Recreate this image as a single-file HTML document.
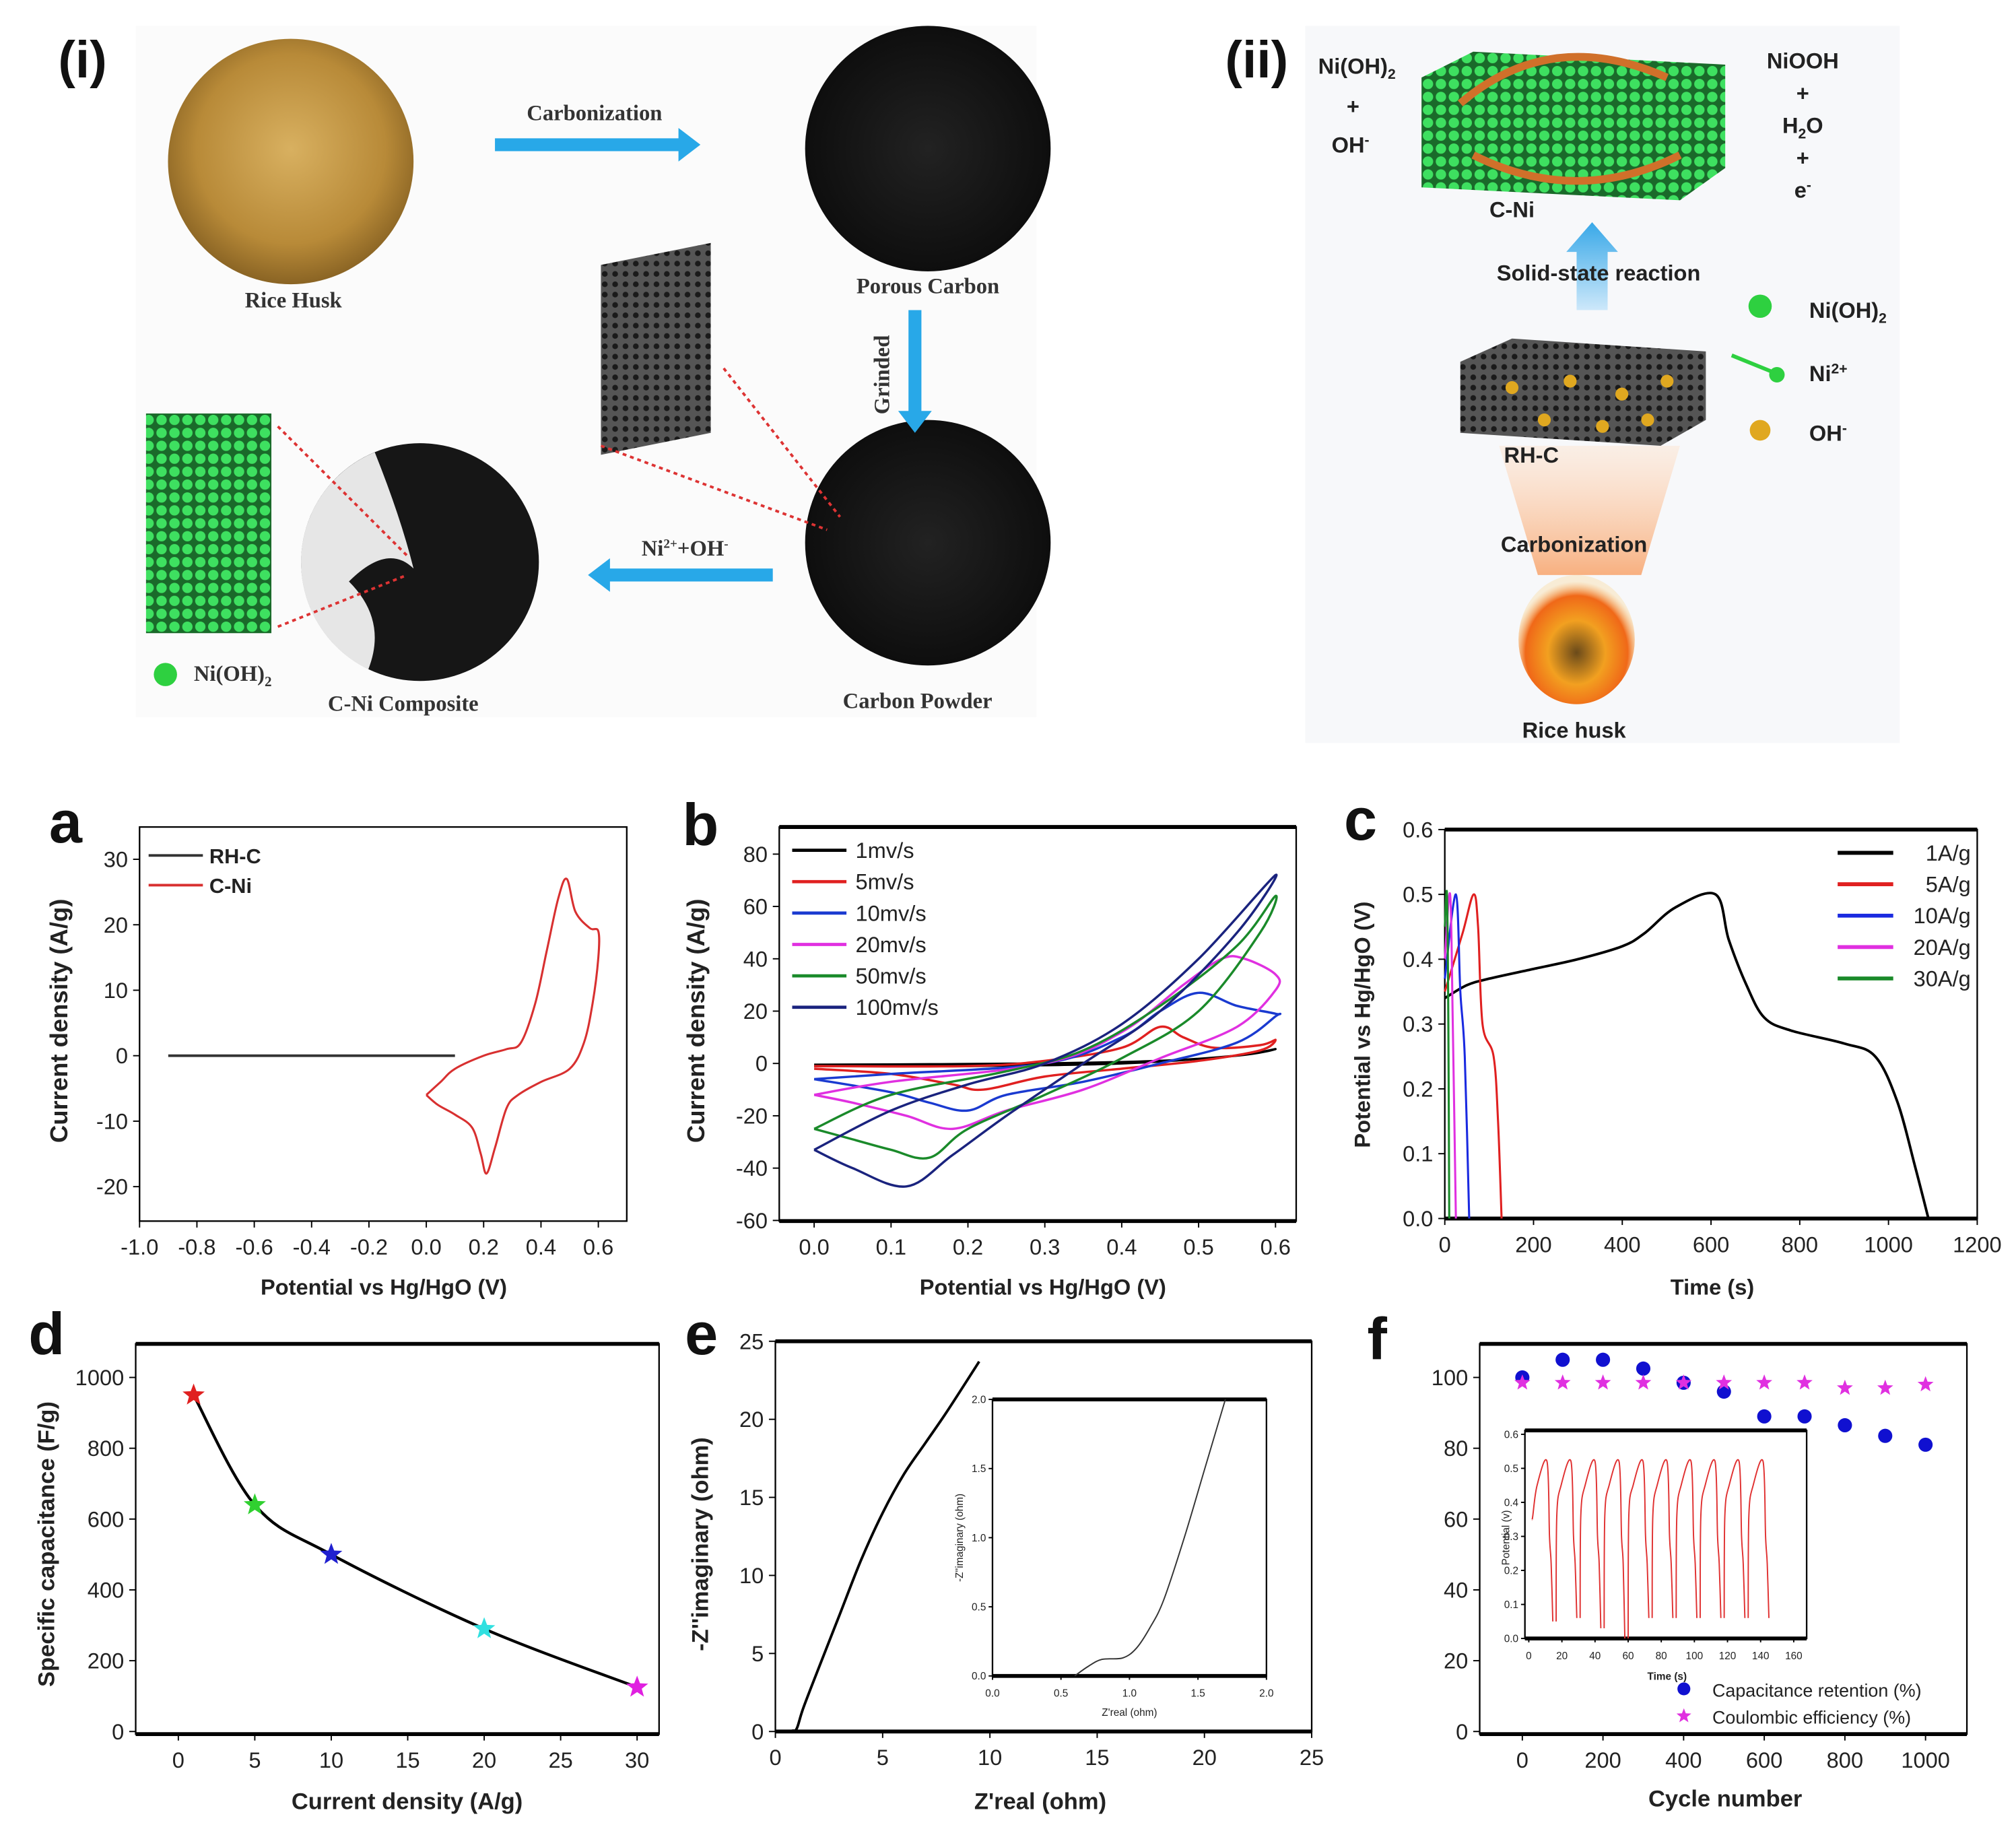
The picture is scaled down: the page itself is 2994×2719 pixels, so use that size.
<!DOCTYPE html>
<html><head><meta charset="utf-8">
<style>
html,body{margin:0;padding:0;background:#fff;}
svg{display:block;font-family:"Liberation Sans",Arial,sans-serif;}
.tk{fill:#222;}
.tt{font-weight:bold;fill:#222;}
.pl{font-weight:bold;fill:#111;}
.sr{font-family:"Liberation Serif",serif;font-weight:bold;font-size:17px;fill:#333;}
.bs{font-weight:bold;font-size:17px;fill:#222;}
</style></head>
<body>
<svg id="fig" width="2994" height="2719" viewBox="0 0 1560 1417" preserveAspectRatio="none">
<defs>
<radialGradient id="gold" cx="50%" cy="45%" r="55%"><stop offset="0" stop-color="#d8b060"/><stop offset="0.7" stop-color="#b88a38"/><stop offset="1" stop-color="#8a6424"/></radialGradient>
<radialGradient id="blk" cx="50%" cy="50%" r="55%"><stop offset="0" stop-color="#222"/><stop offset="1" stop-color="#0c0c0c"/></radialGradient>
<radialGradient id="fire" cx="50%" cy="60%" r="55%"><stop offset="0" stop-color="#6a4a1a"/><stop offset="0.45" stop-color="#f2a020"/><stop offset="0.8" stop-color="#f06818"/><stop offset="1" stop-color="#fbd080" stop-opacity="0.3"/></radialGradient>
<linearGradient id="glow" x1="0" y1="1" x2="0" y2="0"><stop offset="0" stop-color="#f8b080"/><stop offset="1" stop-color="#fde0c8" stop-opacity="0.4"/></linearGradient>
<linearGradient id="uparr" x1="0" y1="1" x2="0" y2="0"><stop offset="0" stop-color="#cde8fa"/><stop offset="1" stop-color="#38a8e8"/></linearGradient>
<pattern id="grn" width="10" height="10" patternUnits="userSpaceOnUse"><rect width="10" height="10" fill="#1a6a2a"/><circle cx="5" cy="5" r="4" fill="#3ee060"/></pattern>
<pattern id="por" width="8" height="8" patternUnits="userSpaceOnUse"><rect width="8" height="8" fill="#555"/><circle cx="4" cy="4" r="2.2" fill="#1a1a1a"/></pattern>
</defs>

<!-- ===== Panel (i) ===== -->
<g>
<rect x="105" y="20" width="697" height="535" fill="#fbfbfb"/>
<text class="pl" x="45" y="60" style="font-size:40px">(i)</text>
<circle cx="225" cy="125" r="95" fill="url(#gold)"/>
<text class="sr" x="227" y="238" text-anchor="middle">Rice Husk</text>
<circle cx="718" cy="115" r="95" fill="url(#blk)"/>
<text class="sr" x="718" y="227" text-anchor="middle">Porous Carbon</text>
<circle cx="718" cy="420" r="95" fill="url(#blk)"/>
<text class="sr" x="710" y="548" text-anchor="middle">Carbon Powder</text>
<circle cx="325" cy="435" r="92" fill="#161616"/>
<path d="M290 350 A92 92 0 0 0 285 518 Q300 480 270 450 Q300 420 320 440 Q310 400 290 350 Z" fill="#e6e6e6"/>
<text class="sr" x="312" y="550" text-anchor="middle">C-Ni Composite</text>
<polygon points="465,205 550,188 550,335 465,352" fill="url(#por)"/>
<rect x="113" y="320" width="97" height="170" fill="url(#grn)"/>
<line x1="215" y1="330" x2="315" y2="430" stroke="#d33" stroke-width="2" stroke-dasharray="3,3"/>
<line x1="215" y1="485" x2="315" y2="445" stroke="#d33" stroke-width="2" stroke-dasharray="3,3"/>
<line x1="560" y1="285" x2="650" y2="400" stroke="#d33" stroke-width="2" stroke-dasharray="3,3"/>
<line x1="465" y1="345" x2="640" y2="410" stroke="#d33" stroke-width="2" stroke-dasharray="3,3"/>
<circle cx="128" cy="522" r="9" fill="#2ed040"/>
<text class="sr" x="150" y="527">Ni(OH)<tspan font-size="11" dy="4">2</tspan></text>
<g fill="#28a8e8">
<path d="M383 107 H525 V99 L542 112 L525 125 V117 H383 Z"/>
<path d="M703 240 H713 V318 H721 L708 335 L695 318 H703 Z"/>
<path d="M598 440 V450 H472 V458 L455 445 L472 432 V440 Z"/>
</g>
<text class="sr" x="460" y="93" text-anchor="middle">Carbonization</text>
<text class="sr" x="688" y="290" text-anchor="middle" transform="rotate(-90 688 290)">Grinded</text>
<text class="sr" x="530" y="430" text-anchor="middle">Ni<tspan font-size="10" dy="-6">2+</tspan><tspan dy="6">+OH</tspan><tspan font-size="10" dy="-6">-</tspan></text>
</g>

<!-- ===== Panel (ii) ===== -->
<g>
<rect x="1010" y="20" width="460" height="555" fill="#f7f8fa"/>
<text class="pl" x="948" y="60" style="font-size:40px">(ii)</text>
<polygon points="1100,60 1140,40 1335,50 1335,130 1300,155 1100,145" fill="url(#grn)"/>
<path d="M1130 80 Q1200 20 1290 60" stroke="#d0702a" stroke-width="6" fill="none"/>
<path d="M1300 120 Q1220 160 1140 120" stroke="#d0702a" stroke-width="6" fill="none"/>
<text class="bs" x="1050" y="57" text-anchor="middle">Ni(OH)<tspan font-size="11" dy="4">2</tspan></text>
<text class="bs" x="1047" y="88" text-anchor="middle">+</text>
<text class="bs" x="1045" y="118" text-anchor="middle">OH<tspan font-size="11" dy="-6">-</tspan></text>
<text class="bs" x="1395" y="53" text-anchor="middle">NiOOH</text>
<text class="bs" x="1395" y="78" text-anchor="middle">+</text>
<text class="bs" x="1395" y="103" text-anchor="middle">H<tspan font-size="11" dy="4">2</tspan><tspan dy="-4">O</tspan></text>
<text class="bs" x="1395" y="128" text-anchor="middle">+</text>
<text class="bs" x="1395" y="153" text-anchor="middle">e<tspan font-size="11" dy="-6">-</tspan></text>
<text class="bs" x="1170" y="168" text-anchor="middle">C-Ni</text>
<path d="M1220 240 V195 H1212 L1232 172 L1252 195 H1244 V240 Z" fill="url(#uparr)"/>
<text class="bs" x="1237" y="217" text-anchor="middle">Solid-state reaction</text>
<polygon points="1130,280 1170,262 1320,272 1320,325 1285,345 1130,335" fill="url(#por)"/>
<g fill="#e0a820">
<circle cx="1170" cy="300" r="5"/><circle cx="1215" cy="295" r="5"/><circle cx="1255" cy="305" r="5"/><circle cx="1290" cy="295" r="5"/><circle cx="1195" cy="325" r="5"/><circle cx="1240" cy="330" r="5"/><circle cx="1275" cy="325" r="5"/>
</g>
<polygon points="1160,345 1300,345 1270,445 1190,445" fill="url(#glow)"/>
<text class="bs" x="1185" y="358" text-anchor="middle">RH-C</text>
<text class="bs" x="1218" y="427" text-anchor="middle">Carbonization</text>
<ellipse cx="1220" cy="495" rx="45" ry="50" fill="url(#fire)"/>
<text class="bs" x="1218" y="571" text-anchor="middle">Rice husk</text>
<circle cx="1362" cy="237" r="9" fill="#2ed040"/>
<text class="bs" x="1400" y="246">Ni(OH)<tspan font-size="11" dy="4">2</tspan></text>
<circle cx="1375" cy="290" r="6" fill="#2ed040"/><line x1="1340" y1="275" x2="1372" y2="288" stroke="#2ed040" stroke-width="3"/>
<text class="bs" x="1400" y="295">Ni<tspan font-size="11" dy="-6">2+</tspan></text>
<circle cx="1362" cy="333" r="8" fill="#e0a820"/>
<text class="bs" x="1400" y="341">OH<tspan font-size="11" dy="-6">-</tspan></text>
</g>

<g id="charts"></g>
</svg>

<script>
// ---------- DATA ----------
// panel a
const aRhcX = [-0.9, 0.1];
const aRhcY = [0, 0];
const aCniX = [0.0,0.05,0.1,0.2,0.28,0.33,0.38,0.42,0.46,0.49,0.52,0.57,0.6,0.6,0.58,0.55,0.5,0.4,0.32,0.28,0.24,0.21,0.19,0.16,0.1,0.04,0.0];
const aCniY = [-6,-4,-2,0,1,2,8,16,24,27,22,19.5,19,15,8,2,-2,-4,-6,-8,-14,-18,-15,-11,-9,-7.5,-6];
const aXTicks = [-1.0,-0.8,-0.6,-0.4,-0.2,0.0,0.2,0.4,0.6];
const aYTicks = [-20,-10,0,10,20,30];
// panel b
const bLabels = ['1mv/s','5mv/s','10mv/s','20mv/s','50mv/s','100mv/s'];
const bColors = ['#000','#e02020','#1a3ad0','#e030e0','#1a8a2a','#1a237e'];
const b1X=[0,0.15,0.3,0.45,0.55,0.6,0.55,0.4,0.2,0];
const b1Y=[-0.5,-0.3,0,1,3,5.5,3,0,-1,-1];
const b2X=[0,0.2,0.3,0.4,0.45,0.48,0.52,0.58,0.6,0.58,0.5,0.4,0.3,0.22,0.18,0.1,0];
const b2Y=[-1,-1,1,6,14,10,6,7,9,5,1,-2,-5,-10,-8,-4,-2];
const b3X=[0,0.1,0.3,0.4,0.45,0.5,0.55,0.6,0.6,0.55,0.45,0.35,0.25,0.2,0.15,0.1,0];
const b3Y=[-6,-4,0,10,20,27,22,19,18,8,0,-7,-12,-18,-15,-11,-6];
const b4X=[0,0.1,0.3,0.4,0.48,0.53,0.56,0.6,0.6,0.55,0.45,0.35,0.25,0.18,0.12,0.05,0];
const b4Y=[-12,-7,0,12,30,40,40,34,28,14,2,-10,-18,-25,-20,-15,-12];
const b5X=[0,0.1,0.25,0.35,0.45,0.55,0.6,0.58,0.5,0.4,0.3,0.2,0.15,0.1,0.05,0];
const b5Y=[-25,-12,-3,5,22,45,64,50,20,2,-12,-25,-36,-33,-29,-25];
const b6X=[0,0.1,0.2,0.3,0.4,0.5,0.6,0.55,0.45,0.35,0.25,0.18,0.12,0.05,0];
const b6Y=[-33,-18,-8,0,15,40,72,50,20,0,-20,-35,-47,-40,-33];
const bXTicks=[0.0,0.1,0.2,0.3,0.4,0.5,0.6];
const bYTicks=[-60,-40,-20,0,20,40,60,80];
// panel c
const cLabels=['1A/g','5A/g','10A/g','20A/g','30A/g'];
const cColors=['#000','#e02020','#1a2ae0','#e030e0','#1a8a2a'];
const c1T=[0,50,100,200,300,400,450,520,610,640,680,720,780,900,970,1020,1060,1090];
const c1V=[0.34,0.36,0.37,0.385,0.4,0.42,0.44,0.48,0.5,0.43,0.36,0.31,0.29,0.27,0.25,0.18,0.08,0];
const c2T=[0,40,65,75,85,110,120,128];
const c2V=[0.35,0.44,0.5,0.45,0.3,0.25,0.15,0];
const c3T=[0,25,35,45,55];
const c3V=[0.37,0.5,0.35,0.25,0];
const c4T=[0,12,18,25];
const c4V=[0.4,0.5,0.3,0];
const c5T=[0,5,8,10];
const c5V=[0.45,0.5,0.3,0];
const cXTicks=[0,200,400,600,800,1000,1200];
const cYTicks=[0.0,0.1,0.2,0.3,0.4,0.5,0.6];
// panel d
const dX=[1,5,10,20,30];
const dY=[950,640,500,290,125];
const dColors=['#e02020','#30d030','#2020d0','#30e0e0','#e020e0'];
const dXTicks=[0,5,10,15,20,25,30];
const dYTicks=[0,200,400,600,800,1000];
// panel e
const eX=[0.6,0.8,1.0,1.3,2,3,4,5,6,7,8,9.5];
const eY=[0,0.05,0.2,1.5,4,7.5,11,14,16.5,18.5,20.5,23.7];
const eInX=[0.6,0.7,0.8,0.95,1.05,1.15,1.25,1.4,1.55,1.7];
const eInY=[0,0.07,0.12,0.13,0.2,0.35,0.55,1.0,1.5,2.0];
const eTicks=[0,5,10,15,20,25];
const eInTicks=[0.0,0.5,1.0,1.5,2.0];
// panel f
const fCycles=[0,100,200,300,400,500,600,700,800,900,1000];
const fRetention=[100,105,105,102.5,98.5,96,89,89,86.5,83.5,81];
const fEfficiency=[98.5,98.5,98.5,98.5,98.5,98.5,98.5,98.5,97,97,98];
const fXTicks=[0,200,400,600,800,1000];
const fYTicks=[0,20,40,60,80,100];
const fInStarts=[2,16.5,31,45.5,60,74.5,89,103.5,118,132.5];
const fInMins=[0.05,0.06,0.03,0.0,0.06,0.06,0.06,0.06,0.06,0.06];
const fInXTicks=[0,20,40,60,80,100,120,140,160];
const fInYTicks=[0.0,0.1,0.2,0.3,0.4,0.5,0.6];

// ---------- HELPERS ----------
const NS='http://www.w3.org/2000/svg';
const root=document.getElementById('charts');
function el(tag,attrs,parent){const e=document.createElementNS(NS,tag);for(const k in attrs)e.setAttribute(k,attrs[k]);if(attrs['font-size'])e.style.fontSize=attrs['font-size']+'px';(parent||root).appendChild(e);return e;}
function axis(x0,x1,y0,y1,xmin,xmax,ymin,ymax){return {sx:v=>x0+(v-xmin)/(xmax-xmin)*(x1-x0),sy:v=>y0-(v-ymin)/(ymax-ymin)*(y0-y1)};}
function smooth(pts){let d='M'+pts[0][0]+' '+pts[0][1];for(let i=0;i<pts.length-1;i++){const p0=pts[Math.max(0,i-1)],p1=pts[i],p2=pts[i+1],p3=pts[Math.min(pts.length-1,i+2)];const c1=[p1[0]+(p2[0]-p0[0])/6,p1[1]+(p2[1]-p0[1])/6],c2=[p2[0]-(p3[0]-p1[0])/6,p2[1]-(p3[1]-p1[1])/6];d+=' C'+c1[0]+' '+c1[1]+' '+c2[0]+' '+c2[1]+' '+p2[0]+' '+p2[1];}return d;}
function line(ax,xs,ys,color,w,name,sm){const pts=xs.map((x,i)=>[ax.sx(x),ax.sy(ys[i])]);
 const p=el('path',{d:sm===false?'M'+pts.map(p=>p.join(' ')).join(' L'):smooth(pts),fill:'none',stroke:color,'stroke-width':w,'stroke-linejoin':'round'});
 
 
 return p;}
function frame(x0,x1,y0,y1,name,thick){const r=el('rect',{x:x0,y:y1,width:x1-x0,height:y0-y1,fill:'#fff',stroke:'#000','stroke-width':1.2});
 
 
 if(thick){el('line',{x1:x0,x2:x1,y1:y1,y2:y1,stroke:'#000','stroke-width':3});el('line',{x1:x0,x2:x1,y1:y0,y2:y0,stroke:'#000','stroke-width':3});}}
function xticks(ax,ticks,y0,fmt,fs,len){ticks.forEach(t=>{const x=ax.sx(t);el('line',{x1:x,x2:x,y1:y0,y2:y0+(len||5),stroke:'#000','stroke-width':1});
 const tx=el('text',{x:x,y:y0+(fs?fs+8:26),'text-anchor':'middle',class:'tk','font-size':fs||17});tx.textContent=fmt(t);
 
 });}
function yticks(ax,ticks,x0,fmt,fs,len){ticks.forEach(t=>{const y=ax.sy(t);el('line',{x1:x0-(len||5),x2:x0,y1:y,y2:y,stroke:'#000','stroke-width':1});
 const tx=el('text',{x:x0-(fs?5:9),y:y+(fs?fs*0.35:6),'text-anchor':'end',class:'tk','font-size':fs||17});tx.textContent=fmt(t);
 
 });}
function txt(x,y,s,cls,name,opts){const t=el('text',Object.assign({x:x,y:y,class:cls},opts||{}));t.textContent=s;
 
 return t;}
function star(cx,cy,r,color,name){let d='';for(let i=0;i<10;i++){const a=-Math.PI/2+i*Math.PI/5,rr=i%2?r*0.42:r;d+=(i?'L':'M')+(cx+rr*Math.cos(a))+' '+(cy+rr*Math.sin(a));}
 const p=el('path',{d:d+'Z',fill:color});
 
 }
const f1=v=>v.toFixed(1), f0=v=>String(v);

// ---------- PANEL A ----------
txt(38,652,'a','pl','panel-label-a',{'font-size':46});
const A=axis(108,463,817,665,-1,0.6,0,30);
frame(108,485,945,640,'plot-frame-a');
line(A,aRhcX,aRhcY,'#333',2,'rh-c-line',false);
line(A,aCniX,aCniY,'#d83030',1.6,'c-ni-cv-curve');
xticks(A,aXTicks,945,f1);yticks(A,aYTicks,108,f0);
el('line',{x1:115,x2:157,y1:662,y2:662,stroke:'#333','stroke-width':2});
el('line',{x1:115,x2:157,y1:685,y2:685,stroke:'#d83030','stroke-width':2});
txt(162,668,'RH-C','bs','legend-rh-c',{'font-size':16});
txt(162,691,'C-Ni','bs','legend-c-ni',{'font-size':16});
txt(297,1002,'Potential vs Hg/HgO (V)','tt','x-axis-title-a',{'text-anchor':'middle','font-size':17});
txt(52,790,'Current density (A/g)','tt','y-axis-title-a',{'text-anchor':'middle','font-size':19,transform:'rotate(-90 52 790)'});

// ---------- PANEL B ----------
txt(528,654,'b','pl','panel-label-b',{'font-size':46});
const B=axis(630,987,823,661,0,0.6,0,80);
frame(603,1003,945,640,'plot-frame-b',true);
const bXs=[b1X,b2X,b3X,b4X,b5X,b6X], bYs=[b1Y,b2Y,b3Y,b4Y,b5Y,b6Y];
bXs.forEach((xs,i)=>line(B,xs,bYs[i],bColors[i],1.8,'cv-curve-'+bLabels[i].replace('/','-')));
xticks(B,bXTicks,945,f1);yticks(B,bYTicks,603,f0);
bLabels.forEach((l,i)=>{const y=658+i*24.3;el('line',{x1:613,x2:655,y1:y,y2:y,stroke:bColors[i],'stroke-width':2.5});txt(662,y+6,l,'tk','legend-'+l.replace('/','-'),{'font-size':17});});
txt(807,1002,'Potential vs Hg/HgO (V)','tt','x-axis-title-b',{'text-anchor':'middle','font-size':17});
txt(545,790,'Current density (A/g)','tt','y-axis-title-b',{'text-anchor':'middle','font-size':19,transform:'rotate(-90 545 790)'});

// ---------- PANEL C ----------
txt(1040,650,'c','pl','panel-label-c',{'font-size':46});
const C=axis(1118,1530,943,642,0,1200,0,0.6);
frame(1118,1530,943,642,'plot-frame-c',true);
const cTs=[c1T,c2T,c3T,c4T,c5T], cVs=[c1V,c2V,c3V,c4V,c5V];
cTs.forEach((ts,i)=>line(C,ts,cVs[i],cColors[i],i?1.6:2,'gcd-curve-'+cLabels[i].replace('/','-')));
xticks(C,cXTicks,943,f0);yticks(C,cYTicks,1118,f1);
cLabels.forEach((l,i)=>{const y=660+i*24.3;el('line',{x1:1422,x2:1465,y1:y,y2:y,stroke:cColors[i],'stroke-width':3});txt(1525,y+6,l,'tk','legend-'+l.replace('/','-'),{'font-size':17,'text-anchor':'end'});});
txt(1325,1002,'Time (s)','tt','x-axis-title-c',{'text-anchor':'middle','font-size':17});
txt(1060,793,'Potential vs Hg/HgO (V)','tt','y-axis-title-c',{'text-anchor':'middle','font-size':17,transform:'rotate(-90 1060 793)'});

// ---------- PANEL D ----------
txt(22,1048,'d','pl','panel-label-d',{'font-size':46});
const D=axis(138,493,1340,1066,0,30,0,1000);
frame(105,510,1342,1040,'plot-frame-d',true);
line(D,dX,dY,'#000',2.2,'capacitance-curve');
dX.forEach((x,i)=>star(D.sx(x),D.sy(dY[i]),9,dColors[i],'capacitance-point'));
xticks(D,dXTicks,1342,f0);yticks(D,dYTicks,105,f0);
txt(315,1400,'Current density (A/g)','tt','x-axis-title-d',{'text-anchor':'middle','font-size':18});
txt(42,1195,'Specific capacitance (F/g)','tt','y-axis-title-d',{'text-anchor':'middle','font-size':18,transform:'rotate(-90 42 1195)'});

// ---------- PANEL E ----------
txt(530,1048,'e','pl','panel-label-e',{'font-size':46});
const E=axis(600,1015,1340,1038,0,25,0,25);
frame(600,1015,1340,1038,'plot-frame-e',true);
line(E,eX,eY,'#000',2,'nyquist-curve');
xticks(E,eTicks,1340,f0);yticks(E,eTicks,600,f0);
const EI=axis(768,980,1297,1083,0,2,0,2);
frame(768,980,1297,1083,'inset-frame-e',true);
line(EI,eInX,eInY,'#333',1,'inset-nyquist-curve');
xticks(EI,eInTicks,1297,f1,8,3);yticks(EI,eInTicks,768,f1,8,3);
txt(874,1328,"Z'real (ohm)",'tk','inset-x-title-e',{'text-anchor':'middle','font-size':8});
txt(745,1190,"-Z''imaginary (ohm)",'tk','inset-y-title-e',{'text-anchor':'middle','font-size':8,transform:'rotate(-90 745 1190)'});
txt(805,1400,"Z'real (ohm)",'tt','x-axis-title-e',{'text-anchor':'middle','font-size':18});
txt(548,1195,"-Z''imaginary (ohm)",'tt','y-axis-title-e',{'text-anchor':'middle','font-size':18,transform:'rotate(-90 548 1195)'});

// ---------- PANEL F ----------
txt(1058,1052,'f','pl','panel-label-f',{'font-size':46});
const F=axis(1178,1490,1340,1066,0,1000,0,100);
frame(1145,1522,1342,1040,'plot-frame-f',true);
fCycles.forEach((c,i)=>{
 const d=el('circle',{cx:F.sx(c),cy:F.sy(fRetention[i]),r:5.5,fill:'#1010d0'});
 
 
 star(F.sx(c),F.sy(fEfficiency[i]),6.5,'#e030e0','efficiency-point');});
xticks(F,fXTicks,1342,f0);yticks(F,fYTicks,1145,f0);
const FI=axis(1183,1388,1268,1110,0,160,0,0.6);
frame(1180,1398,1268,1107,'inset-frame-f',true);
fInStarts.forEach((t0,i)=>{
 const ts=[t0,t0+0.4,t0+3,t0+9,t0+10.5,t0+11.5,t0+12.5];
 const vs=[i?fInMins[i-1]:0.35,0.36,0.45,0.52,0.3,0.22,fInMins[i]];
 line(FI,ts,vs,'#e03030',1,'inset-gcd-cycle');});
xticks(FI,fInXTicks,1268,f0,8,3);yticks(FI,fInYTicks,1180,f1,8,3);
txt(1290,1300,'Time (s)','tk','inset-x-title-f',{'text-anchor':'middle','font-size':8,'font-weight':'bold'});
txt(1168,1190,'Potential (v)','tk','inset-y-title-f',{'text-anchor':'middle','font-size':8,transform:'rotate(-90 1168 1190)'});
el('circle',{cx:1303,cy:1307,r:5,fill:'#1010d0'});
star(1303,1328,6,'#e030e0','legend-efficiency-marker');
txt(1325,1313,'Capacitance retention (%)','tk','legend-retention',{'font-size':14});
txt(1325,1334,'Coulombic efficiency (%)','tk','legend-efficiency',{'font-size':14});
txt(1335,1398,'Cycle number','tt','x-axis-title-f',{'text-anchor':'middle','font-size':18});
</script>
</body></html>
